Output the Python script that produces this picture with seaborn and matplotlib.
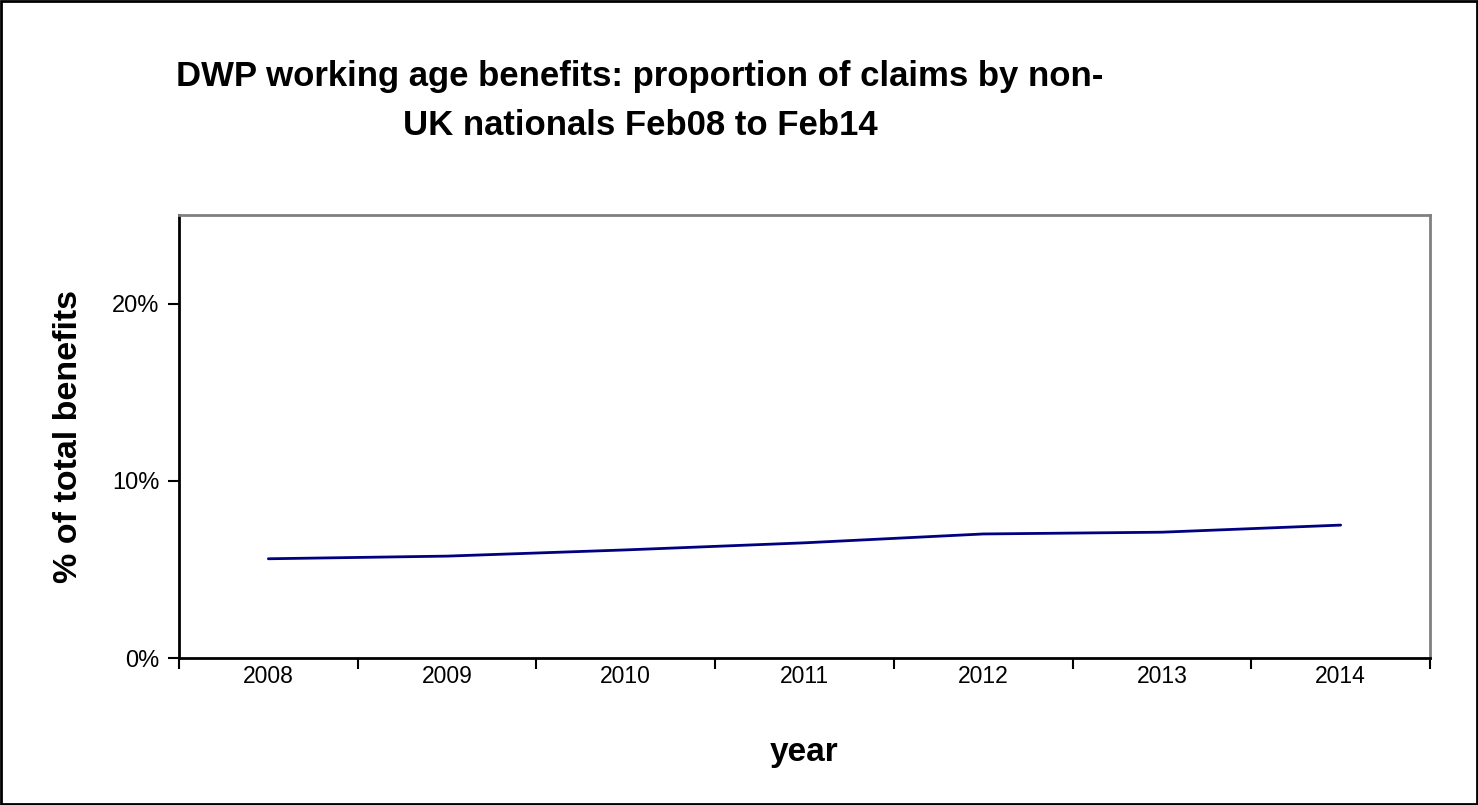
import numpy as np
import pandas as pd
import seaborn as sns
from matplotlib import pyplot as plt
from matplotlib.patches import Rectangle
from matplotlib.ticker import FixedLocator, PercentFormatter

years = ["2008", "2009", "2010", "2011", "2012", "2013", "2014"]
share = [5.6, 5.75, 6.1, 6.5, 7.0, 7.1, 7.5]

sns.set_theme(style="white")
plt.rcParams['font.family'] = ['Liberation Sans', 'DejaVu Sans']
plt.rcParams['text.color'] = "black"
plt.rcParams['axes.labelcolor'] = "black"
plt.rcParams['xtick.color'] = "black"
plt.rcParams['ytick.color'] = "black"

data = pd.DataFrame({"pos": np.arange(len(years)), "share": share})

fig = plt.figure(figsize=(14.78, 8.05), dpi=100)
ax = fig.add_axes([179 / 1478, 1 - 658 / 805, (1430 - 179) / 1478, (658 - 215) / 805])

sns.lineplot(data=data, x="pos", y="share", color="#000080", linewidth=2, ax=ax)

ax.set_xlim(-0.5, len(years) - 0.5)
ax.set_ylim(0, 25)
ax.xaxis.set_major_locator(FixedLocator(np.arange(len(years) + 1) - 0.5))
ax.xaxis.set_minor_locator(FixedLocator(np.arange(len(years))))
ax.set_xticklabels([], minor=False)
ax.set_xticklabels(years, minor=True, fontsize=16.5)
ax.tick_params(axis="x", which="major", direction="out", length=8, width=1.5, color="black", bottom=True)
ax.tick_params(axis="x", which="minor", length=0, pad=5)
ax.set_yticks([0, 10, 20])
ax.yaxis.set_major_formatter(PercentFormatter(decimals=0))
ax.tick_params(axis="y", direction="out", length=8, width=1.5, color="black", left=True, labelsize=17, pad=6)

for side in ["left", "bottom"]:
    ax.spines[side].set_color("black")
    ax.spines[side].set_linewidth(2)
for side in ["top", "right"]:
    ax.spines[side].set_color("#808080")
    ax.spines[side].set_linewidth(2)

ax.set_xlabel("year", fontsize=24, fontweight="bold", labelpad=35)
ax.set_ylabel("% of total benefits", fontsize=24.5, fontweight="bold", labelpad=20)

fig.text(640 / 1478, 1 - 101 / 805, "DWP working age benefits: proportion of claims by non-\nUK nationals Feb08 to Feb14",
         ha="center", va="center", fontsize=25, fontweight="bold", linespacing=1.65)

fig.patches.append(Rectangle((0.001, 0.001), 0.998, 0.998, transform=fig.transFigure,
                             fill=False, edgecolor="black", linewidth=2))

plt.savefig("out.png", dpi=100)
